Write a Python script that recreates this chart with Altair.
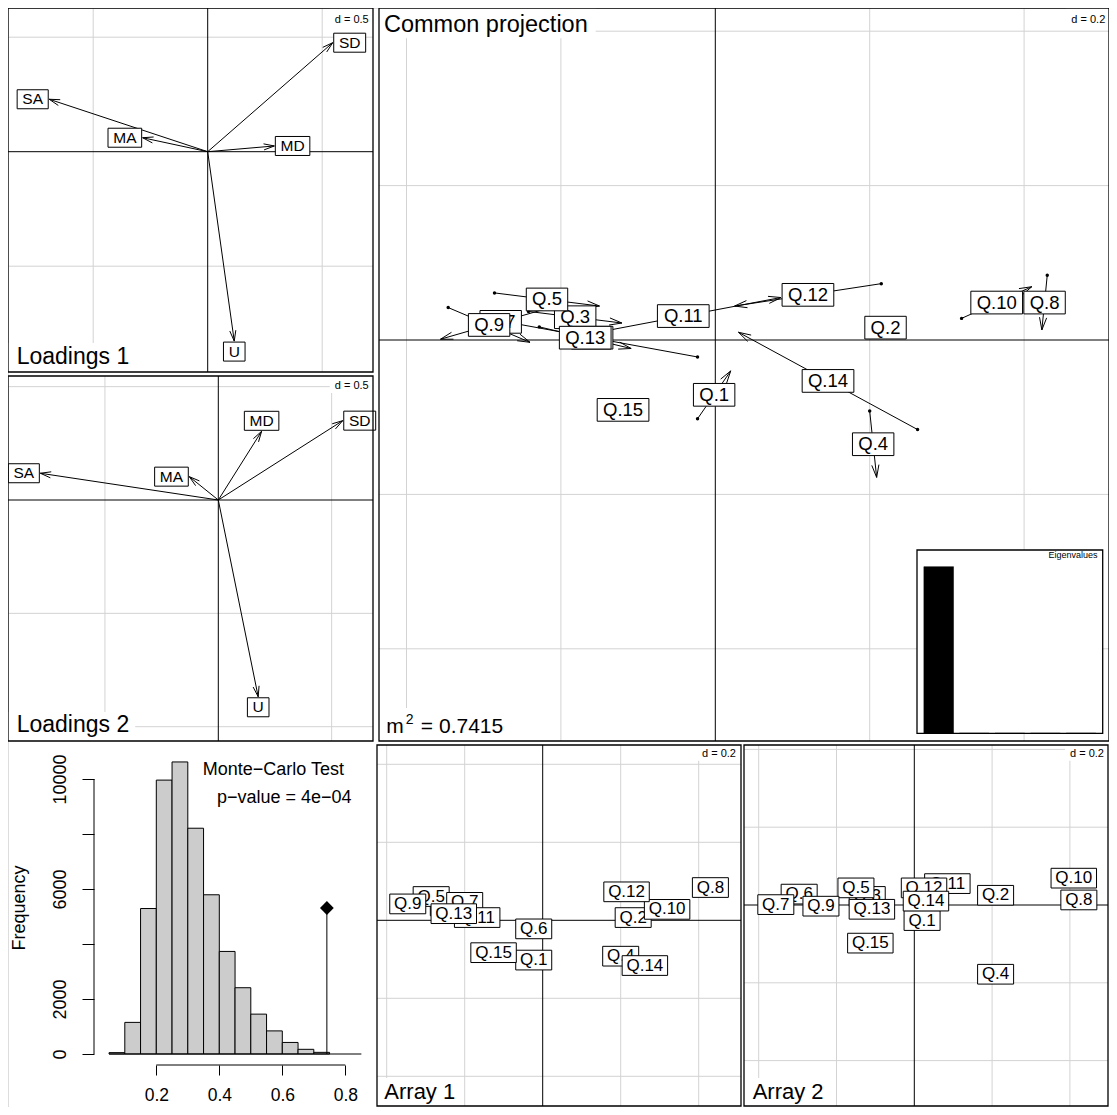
import math
import pandas as pd
import altair as alt

FONT = "Liberation Sans"
GRID = "#d3d3d3"

# ---------------- data ----------------
load_names = ["SA", "MA", "MD", "SD", "U"]
load1_x = [-0.692, -0.284, 0.291, 0.546, 0.116]
load1_y = [0.229, 0.061, 0.025, 0.476, -0.827]
load2_x = [-0.785, -0.128, 0.191, 0.549, 0.176]
load2_y = [0.118, 0.103, 0.303, 0.350, -0.868]

q_names = ["Q.1", "Q.2", "Q.3", "Q.4", "Q.5", "Q.6", "Q.7", "Q.8",
           "Q.9", "Q.10", "Q.11", "Q.12", "Q.13", "Q.14", "Q.15"]
arr1_x = [-0.023, 0.232, -0.242, 0.200, -0.286, -0.023, -0.200, 0.430,
          -0.346, 0.319, -0.168, 0.215, -0.228, 0.262, -0.126]
arr1_y = [-0.102, 0.007, 0.037, -0.092, 0.061, -0.022, 0.046, 0.084,
          0.042, 0.028, 0.007, 0.073, 0.017, -0.116, -0.083]
arr2_x = [0.020, 0.209, -0.121, 0.209, -0.150, -0.296, -0.356, 0.423,
          -0.240, 0.410, 0.085, 0.025, -0.109, 0.030, -0.113]
arr2_y = [-0.040, 0.025, 0.022, -0.178, 0.044, 0.028, 0.001, 0.013,
          -0.003, 0.069, 0.055, 0.044, -0.011, 0.010, -0.098]

hist_left = [0.05, 0.10, 0.15, 0.20, 0.25, 0.30, 0.35, 0.40, 0.45,
             0.50, 0.55, 0.60, 0.65, 0.70]
hist_counts = [50, 1150, 5290, 9960, 10620, 8210, 5790, 3730, 2410,
               1450, 840, 420, 170, 60]
bin_width = 0.05
obs_value = 0.7415
obs_height = 5309
hist_y_ticks = [0, 2000, 4000, 6000, 8000, 10000]
hist_x_ticks = [0.2, 0.4, 0.6, 0.8]
p_value_label = "p\u2212value =  4e\u221204"
m2_label = "0.7415"

eig_values = [1.0, 0.0, 0.0, 0.0, 0.0]

# ---------------- helpers ----------------
W_CH, H_CH = 1101, 1099

CHAR_W = {" ": 278, ".": 278, "=": 584, "\u2212": 584, "-": 333,
          "A": 667, "C": 722, "D": 722, "E": 667, "L": 556, "M": 833,
          "Q": 778, "S": 667, "T": 611, "U": 722,
          "a": 556, "c": 500, "d": 556, "e": 556, "g": 556, "i": 222,
          "j": 222, "l": 222, "m": 833, "n": 556, "o": 556, "p": 556,
          "r": 333, "s": 500, "t": 278, "u": 556, "v": 500, "y": 500}


def text_w(s, fs):
    return sum(CHAR_W.get(c, 556) for c in s) / 1000.0 * fs


class Panel:
    """A panel occupying [x0,x1]x[y0,y1] chart pixels, origin (ox,oy), s px per unit."""

    def __init__(self, x0, x1, y0, y1, ox, oy, s):
        self.x0, self.x1, self.y0, self.y1, self.s = x0, x1, y0, y1, s
        self.xdom = [(x0 - ox) / s, (x1 - ox) / s]
        self.ydom = [(oy - y1) / s, (oy - y0) / s]

    def X(self, f):
        return alt.X(f, type="quantitative", axis=None,
                     scale=alt.Scale(domain=self.xdom, range=[self.x0, self.x1], nice=False, zero=False))

    def Y(self, f):
        return alt.Y(f, type="quantitative", axis=None,
                     scale=alt.Scale(domain=self.ydom, range=[self.y1, self.y0], nice=False, zero=False))


def grid_layers(p, d):
    xs = [k * d for k in range(math.ceil(p.xdom[0] / d), math.floor(p.xdom[1] / d) + 1) if k != 0]
    ys = [k * d for k in range(math.ceil(p.ydom[0] / d), math.floor(p.ydom[1] / d) + 1) if k != 0]
    vx = pd.DataFrame({"g": xs, "a": [p.ydom[0]] * len(xs), "b": [p.ydom[1]] * len(xs)})
    hy = pd.DataFrame({"g": ys, "a": [p.xdom[0]] * len(ys), "b": [p.xdom[1]] * len(ys)})
    g1 = alt.Chart(vx).mark_rule(color=GRID, strokeWidth=1).encode(x=p.X("g"), y=p.Y("a"), y2="b")
    g2 = alt.Chart(hy).mark_rule(color=GRID, strokeWidth=1).encode(y=p.Y("g"), x=p.X("a"), x2="b")
    ax = pd.DataFrame({"g": [0.0], "a": [p.ydom[0]], "b": [p.ydom[1]]})
    ay = pd.DataFrame({"g": [0.0], "a": [p.xdom[0]], "b": [p.xdom[1]]})
    a1 = alt.Chart(ax).mark_rule(color="black", strokeWidth=1).encode(x=p.X("g"), y=p.Y("a"), y2="b")
    a2 = alt.Chart(ay).mark_rule(color="black", strokeWidth=1).encode(y=p.Y("g"), x=p.X("a"), x2="b")
    return [g1, g2, a1, a2]


def frame_layer(p):
    df = pd.DataFrame({"x0": [p.xdom[0]], "x1": [p.xdom[1]], "y0": [p.ydom[0]], "y1": [p.ydom[1]]})
    return alt.Chart(df).mark_rect(filled=False, color="black", strokeWidth=1.3).encode(
        x=p.X("x0"), x2="x1", y=p.Y("y0"), y2="y1")


def d_legend(p, label, baseline, right_pad, fs=11):
    t = text_w(label, fs)
    one = pd.DataFrame({"t": [label]})
    box = alt.Chart(one).mark_rect(fill="white").encode(
        x=alt.value(p.x1 - right_pad - t - 5), x2=alt.value(p.x1),
        y=alt.value(p.y0), y2=alt.value(p.y0 + baseline + 4))
    txt = alt.Chart(one).mark_text(font=FONT, fontSize=fs, align="right",
                                   baseline="alphabetic", color="black").encode(
        x=alt.value(p.x1 - right_pad), y=alt.value(p.y0 + baseline), text="t:N")
    return [box, txt]


def title_bottom(p, label, fs, left, base_off, box_h, extra=6):
    t = text_w(label, fs)
    one = pd.DataFrame({"t": [label]})
    box = alt.Chart(one).mark_rect(fill="white").encode(
        x=alt.value(p.x0), x2=alt.value(p.x0 + left + t + extra),
        y=alt.value(p.y1 - box_h), y2=alt.value(p.y1))
    txt = alt.Chart(one).mark_text(font=FONT, fontSize=fs, align="left",
                                   baseline="alphabetic", color="black").encode(
        x=alt.value(p.x0 + left), y=alt.value(p.y1 - base_off), text="t:N")
    return [box, txt]


def boxed_labels(p, names, cx, cy, fs, padx, bh):
    layers = []
    for n, x, y in zip(names, cx, cy):
        bw = text_w(n, fs) + 2 * padx
        df = pd.DataFrame({"x": [x], "y": [y],
                           "x0": [x - bw / 2 / p.s], "x1": [x + bw / 2 / p.s],
                           "y0": [y - bh / 2 / p.s], "y1": [y + bh / 2 / p.s], "t": [n]})
        base = alt.Chart(df)
        layers.append(base.mark_rect(fill="white", stroke="black", strokeWidth=1).encode(
            x=p.X("x0"), x2="x1", y=p.Y("y0"), y2="y1"))
        layers.append(base.mark_text(font=FONT, fontSize=fs, color="black",
                                     align="center", baseline="middle").encode(
            x=p.X("x"), y=p.Y("y"), text="t:N"))
    return layers


def arrow_layers(p, x0, y0, x1, y1, head_len, half_angle):
    shafts = pd.DataFrame({"x0": x0, "y0": y0, "x1": x1, "y1": y1})
    a = math.radians(half_angle)
    rows = []
    for xa, ya, xb, yb in zip(x0, y0, x1, y1):
        ux, uy = (xb - xa) * p.s, -(yb - ya) * p.s
        n = math.hypot(ux, uy)
        if n < 1e-9:
            continue
        bx, by = -ux / n, -uy / n
        for sg in (1, -1):
            rx = bx * math.cos(sg * a) - by * math.sin(sg * a)
            ry = bx * math.sin(sg * a) + by * math.cos(sg * a)
            rows.append({"x0": xb, "y0": yb,
                         "x1": xb + head_len * rx / p.s, "y1": yb - head_len * ry / p.s})
    heads = pd.DataFrame(rows)
    sh = alt.Chart(shafts).mark_rule(color="black", strokeWidth=1).encode(
        x=p.X("x0"), y=p.Y("y0"), x2="x1", y2="y1")
    hd = alt.Chart(heads).mark_rule(color="black", strokeWidth=1).encode(
        x=p.X("x0"), y=p.Y("y0"), x2="x1", y2="y1")
    return [sh, hd]


# ---------------- loadings panels ----------------
FS_LOAD, PADX_LOAD, BH_LOAD = 15.5, 5.2, 19


def loadings_panel(p, xs, ys, title, title_base, d_base):
    layers = grid_layers(p, 0.5)
    layers += d_legend(p, "d = 0.5", d_base, 4.3)
    layers += arrow_layers(p, [0.0] * len(xs), [0.0] * len(xs), xs, ys, 11, 16)
    cx, cy = [], []
    for x, y, n in zip(xs, ys, load_names):
        bw = text_w(n, FS_LOAD) + 2 * PADX_LOAD
        if abs(x) >= abs(y):
            cx.append(x + math.copysign((bw / 2 + 1) / p.s, x))
            cy.append(y)
        else:
            cx.append(x)
            cy.append(y + math.copysign((BH_LOAD / 2 + 1) / p.s, y))
    layers += boxed_labels(p, load_names, cx, cy, FS_LOAD, PADX_LOAD, BH_LOAD)
    layers += title_bottom(p, title, 23, 8.7, title_base, 29)
    layers.append(frame_layer(p))
    return alt.layer(*layers)


P_L1 = Panel(0, 365, 0, 364, 199.7, 143.7, 229)
P_L2 = Panel(0, 365, 368, 733, 210.3, 492.0, 226.7)
L1 = loadings_panel(P_L1, load1_x, load1_y, "Loadings 1", 8.3, 14.7)
L2 = loadings_panel(P_L2, load2_x, load2_y, "Loadings 2", 9.0, 13.0)

# ---------------- common projection ----------------
P_C = Panel(371, 1101, 0, 733, 707.3, 332.0, 772)
c_layers = grid_layers(P_C, 0.2)
c_layers += d_legend(P_C, "d = 0.2", 14.7, 3.7)
c_layers += arrow_layers(P_C, arr1_x, arr1_y, arr2_x, arr2_y, 13, 16)
c_layers.append(alt.Chart(pd.DataFrame({"x": arr1_x, "y": arr1_y})).mark_circle(
    size=12, color="black", opacity=1).encode(x=P_C.X("x"), y=P_C.Y("y")))
mid_x = [(a + b) / 2 for a, b in zip(arr1_x, arr2_x)]
mid_y = [(a + b) / 2 for a, b in zip(arr1_y, arr2_y)]
c_layers += boxed_labels(P_C, q_names, mid_x, mid_y, 18.5, 5.8, 22.7)

one_t = pd.DataFrame({"t": ["Common projection"]})
c_layers.append(alt.Chart(one_t).mark_rect(fill="white").encode(
    x=alt.value(P_C.x0), x2=alt.value(P_C.x0 + 216.7), y=alt.value(0), y2=alt.value(30.3)))
c_layers.append(alt.Chart(one_t).mark_text(font=FONT, fontSize=23.5, align="left",
                                           baseline="alphabetic", color="black").encode(
    x=alt.value(P_C.x0 + 5), y=alt.value(23.7), text="t:N"))

m_df = pd.DataFrame({"t": [m2_label]})
c_layers.append(alt.Chart(m_df).mark_rect(fill="white").encode(
    x=alt.value(P_C.x0), x2=alt.value(P_C.x0 + 136), y=alt.value(P_C.y1 - 33), y2=alt.value(P_C.y1)))
m_base = P_C.y1 - 7.7
for txt, xpos, fs, yb in [("m", 7.3, 21, m_base), ("2", 26.7, 14, m_base - 9),
                          ("=", 41.7, 21, m_base)]:
    c_layers.append(alt.Chart(pd.DataFrame({"t": [txt]})).mark_text(
        font=FONT, fontSize=fs, align="left", baseline="alphabetic", color="black").encode(
        x=alt.value(P_C.x0 + xpos), y=alt.value(yb), text="t:N"))
c_layers.append(alt.Chart(m_df).mark_text(font=FONT, fontSize=21, align="left",
                                          baseline="alphabetic", color="black").encode(
    x=alt.value(P_C.x0 + 60), y=alt.value(m_base), text="t:N"))
c_layers.append(frame_layer(P_C))
common_main = alt.layer(*c_layers)

# eigenvalue inset (own scales)
n_eig = len(eig_values)
eig_df = pd.DataFrame({"b0": [0.2 + 1.2 * i for i in range(n_eig)],
                       "b1": [1.2 + 1.2 * i for i in range(n_eig)],
                       "v": eig_values, "z": [0.0] * n_eig})
EX = alt.Scale(domain=[-0.032, 6.232], range=[909, 1094.7], nice=False, zero=False)
EY = alt.Scale(domain=[0, 1.1], range=[725.3, 542], nice=False, zero=False)
eig_frame = alt.Chart(pd.DataFrame({"x0": [-0.032], "x1": [6.232], "y0": [0.0], "y1": [1.1]})).mark_rect(
    fill="white", stroke="black", strokeWidth=1.3).encode(
    x=alt.X("x0:Q", scale=EX, axis=None), x2="x1",
    y=alt.Y("y0:Q", scale=EY, axis=None), y2="y1")
eig_bars = alt.Chart(eig_df).mark_rect(fill="black", stroke="black", strokeWidth=0.5).encode(
    x=alt.X("b0:Q", scale=EX, axis=None), x2="b1",
    y=alt.Y("v:Q", scale=EY, axis=None), y2="z")
eig_text = alt.Chart(pd.DataFrame({"x": [6.06], "y": [1.1], "t": ["Eigenvalues"]})).mark_text(
    font=FONT, fontSize=9, align="right", baseline="top", color="black", dy=1).encode(
    x=alt.X("x:Q", scale=EX, axis=None), y=alt.Y("y:Q", scale=EY, axis=None), text="t:N")
eig_layer = alt.layer(eig_frame, eig_bars, eig_text)

# ---------------- arrays ----------------
FS_ARR, PADX_ARR, BH_ARR = 17, 4.3, 19.7


def array_panel(p, xs, ys, title, d_pad, title_left):
    layers = grid_layers(p, 0.2)
    layers += d_legend(p, "d = 0.2", 11.7, d_pad)
    layers += boxed_labels(p, q_names, xs, ys, FS_ARR, PADX_ARR, BH_ARR)
    layers += title_bottom(p, title, 22, title_left, 7, 28)
    layers.append(frame_layer(p))
    return alt.layer(*layers)


P_A1 = Panel(369, 733, 737, 1098, 534.7, 912.3, 390)
P_A2 = Panel(736, 1100, 737, 1098, 906.3, 897.0, 389)
A1 = array_panel(P_A1, arr1_x, arr1_y, "Array 1", 5, 7.3)
A2 = array_panel(P_A2, arr2_x, arr2_y, "Array 2", 4, 8.7)

# ---------------- histogram (Monte-Carlo test) ----------------
HX = alt.Scale(domain=[0.0, 1.0], range=[85.3, 400.3], nice=False, zero=False)
HY = alt.Scale(domain=[0.0, 10000.0], range=[1046.0, 771.0], nice=False, zero=False)
X_AXIS_Y, Y_AXIS_X = 1057, 86
x_axis = alt.Axis(orient="bottom", values=hist_x_ticks, format=".1f", offset=X_AXIS_Y - H_CH,
                  domain=False, grid=False, ticks=True, tickSize=10, tickColor="black", tickWidth=1,
                  labelFont=FONT, labelFontSize=17.5, labelColor="black", labelPadding=11,
                  labelFlush=False, labelOverlap=False, title=None)
y_axis = alt.Axis(orient="left", values=hist_y_ticks, format="d", offset=-Y_AXIS_X, domain=False,
                  grid=False, ticks=True, tickSize=12, tickColor="black", tickWidth=1,
                  labelFont=FONT, labelFontSize=18, labelColor="black", labelPadding=17,
                  labelAngle=270, labelAlign="center", labelBaseline="alphabetic",
                  labelExpr="(datum.value == 4000 || datum.value == 8000) ? '' : datum.label",
                  labelFlush=False, labelOverlap=False, title=None)


def hxe(f):
    return alt.X(f, type="quantitative", scale=HX, axis=x_axis)


def hye(f):
    return alt.Y(f, type="quantitative", scale=HY, axis=y_axis)


hist_df = pd.DataFrame({"b0": hist_left, "b1": [b + bin_width for b in hist_left],
                        "c": hist_counts, "z": [0] * len(hist_left)})
h_bars = alt.Chart(hist_df).mark_rect(fill="#cccccc", stroke="black", strokeWidth=1).encode(
    x=hxe("b0"), x2="b1", y=hye("c"), y2="z")
h_base = alt.Chart(pd.DataFrame({"x0": [0.05], "x1": [0.851], "y": [0]})).mark_rule(
    color="black", strokeWidth=1).encode(x=hxe("x0"), x2="x1", y=hye("y"))
h_obs = alt.Chart(pd.DataFrame({"x": [obs_value], "y0": [0], "y1": [obs_height]})).mark_rule(
    color="black", strokeWidth=1).encode(x=hxe("x"), y=hye("y0"), y2="y1")
h_dia = alt.Chart(pd.DataFrame({"x": [obs_value], "y": [obs_height]})).mark_point(
    shape="diamond", filled=True, size=190, color="black", opacity=1).encode(
    x=hxe("x"), y=hye("y"))
h_yline = alt.Chart(pd.DataFrame({"a": [hist_y_ticks[0]], "b": [hist_y_ticks[-1]]})).mark_rule(
    color="black", strokeWidth=1).encode(x=alt.value(Y_AXIS_X), y=hye("a"), y2="b")
h_xline = alt.Chart(pd.DataFrame({"a": [hist_x_ticks[0]], "b": [hist_x_ticks[-1]]})).mark_rule(
    color="black", strokeWidth=1).encode(y=alt.value(X_AXIS_Y), x=hxe("a"), x2="b")
h_ytitle = alt.Chart(pd.DataFrame({"t": ["Frequency"]})).mark_text(
    font=FONT, fontSize=18, angle=270, align="center", baseline="alphabetic", color="black").encode(
    x=alt.value(17), y=alt.value(900), text="t:N")
h_t1 = alt.Chart(pd.DataFrame({"t": ["Monte\u2212Carlo Test"]})).mark_text(
    font=FONT, fontSize=18, align="left", baseline="alphabetic", color="black").encode(
    x=alt.value(194.7), y=alt.value(767), text="t:N")
h_t2 = alt.Chart(pd.DataFrame({"t": [p_value_label]})).mark_text(
    font=FONT, fontSize=18, align="left", baseline="alphabetic", color="black").encode(
    x=alt.value(209), y=alt.value(794.7), text="t:N")
hist = alt.layer(h_bars, h_base, h_obs, h_dia, h_yline, h_xline, h_ytitle, h_t1, h_t2)

# ---------------- assemble ----------------
chart = alt.layer(hist, L1, L2, common_main, eig_layer, A1, A2).resolve_scale(
    x="independent", y="independent"
).properties(
    width=W_CH, height=H_CH, padding=0,
    autosize=alt.AutoSizeParams(type="none"),
).configure_view(stroke="transparent").configure(font=FONT)

chart.save("out.html", embed_options={"renderer": "svg", "actions": False})
